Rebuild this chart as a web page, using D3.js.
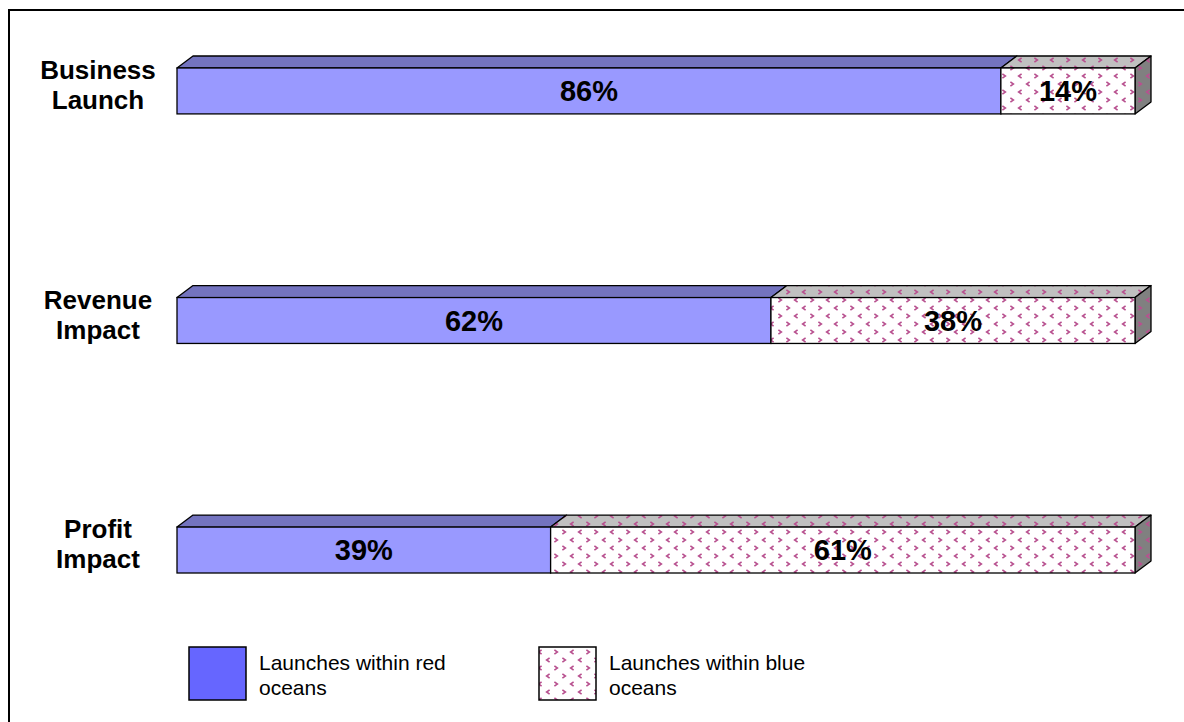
<!DOCTYPE html>
<html>
<head>
<meta charset="utf-8">
<script src="https://cdn.jsdelivr.net/npm/d3@7"></script>
<style>
  body { margin: 0; background: #fff; }
  svg { display: block; font-family: Arial, "Liberation Sans", sans-serif; }
</style>
</head>
<body>
<div id="chart"></div>
<script>
const categories = [['Business', 'Launch'], ['Revenue', 'Impact'], ['Profit', 'Impact']];
const redOceans = [86, 62, 39];
const blueOceans = [14, 38, 61];
const seriesNames = ['Launches within red oceans', 'Launches within blue oceans'];

const width = 1184;
const height = 722;
const depthX = 16;
const depthY = 12;

const svg = d3.select('#chart').append('svg')
    .attr('width', width)
    .attr('height', height);

// hatch of small pink chevrons for the blue-ocean series
const defs = svg.append('defs');
const mkPattern = (id, bg) => {
    const p = defs.append('pattern')
        .attr('id', id)
        .attr('patternUnits', 'userSpaceOnUse')
        .attr('width', 32)
        .attr('height', 16);
    p.append('rect').attr('width', 32).attr('height', 16).attr('fill', bg);
    const marks = [
        { x: 4, y: 4, dir: -1 }, { x: 20, y: 4, dir: 1 },
        { x: 12, y: 12, dir: 1 }, { x: 28, y: 12, dir: -1 }
    ];
    marks.forEach(m => {
        p.append('path')
            .attr('d', `M${m.x - m.dir * 1.6},${m.y - 2.2} L${m.x + m.dir * 1.4},${m.y} L${m.x - m.dir * 1.6},${m.y + 2.2}`)
            .attr('fill', 'none')
            .attr('stroke', '#b8508f')
            .attr('stroke-width', 1.6);
    });
};
mkPattern('blueFront', '#ffffff');
mkPattern('blueTop', '#c0c0c0');
mkPattern('blueSide', '#808080');

// frame
svg.append('rect')
    .attr('x', 9).attr('y', 10)
    .attr('width', width).attr('height', height)
    .attr('fill', 'none')
    .attr('stroke', '#000')
    .attr('stroke-width', 2);

const x = d3.scaleLinear().domain([0, 100]).range([177, 1135]);
const y = d3.scaleBand()
    .domain(d3.range(categories.length))
    .range([68, 573])
    .paddingInner(0.8)
    .paddingOuter(0);

const rows = categories.map((c, i) => ({
    i,
    label: c,
    segs: [
        { start: 0, end: redOceans[i], value: redOceans[i], kind: 'red' },
        { start: redOceans[i], end: redOceans[i] + blueOceans[i], value: blueOceans[i], kind: 'blue' }
    ]
}));

const fills = {
    red: { front: '#9999ff', top: '#7373bf', side: '#5c5c99' },
    blue: { front: 'url(#blueFront)', top: 'url(#blueTop)', side: 'url(#blueSide)' }
};

const row = svg.append('g').selectAll('g')
    .data(rows)
    .join('g');

const seg = row.selectAll('g.seg')
    .data(d => d.segs.map(s => ({ ...s, i: d.i })))
    .join('g')
    .attr('class', 'seg');

const bw = y.bandwidth();

seg.append('path')
    .attr('d', d => {
        const x0 = x(d.start), x1 = x(d.end), t = y(d.i);
        return `M${x0},${t} L${x0 + depthX},${t - depthY} L${x1 + depthX},${t - depthY} L${x1},${t} Z`;
    })
    .attr('fill', d => fills[d.kind].top)
    .attr('stroke', '#000')
    .attr('stroke-width', 1.3)
    .attr('stroke-linejoin', 'round');

seg.filter(d => d.end >= 100).append('path')
    .attr('d', d => {
        const x1 = x(d.end), t = y(d.i);
        return `M${x1},${t} L${x1 + depthX},${t - depthY} L${x1 + depthX},${t - depthY + bw} L${x1},${t + bw} Z`;
    })
    .attr('fill', d => fills[d.kind].side)
    .attr('stroke', '#000')
    .attr('stroke-width', 1.3)
    .attr('stroke-linejoin', 'round');

seg.append('rect')
    .attr('x', d => x(d.start))
    .attr('y', d => y(d.i))
    .attr('width', d => x(d.end) - x(d.start))
    .attr('height', bw)
    .attr('fill', d => fills[d.kind].front)
    .attr('stroke', '#000')
    .attr('stroke-width', 1.3);

seg.append('text')
    .attr('x', d => (x(d.start) + x(d.end)) / 2)
    .attr('y', d => y(d.i) + bw / 2 + 10)
    .attr('text-anchor', 'middle')
    .attr('font-size', 29)
    .attr('font-weight', 'bold')
    .attr('fill', '#000')
    .text(d => `${d.value}%`);

// category labels
row.append('text')
    .attr('text-anchor', 'middle')
    .attr('font-size', 26)
    .attr('font-weight', 'bold')
    .attr('fill', '#000')
    .selectAll('tspan')
    .data(d => d.label.map((t, k) => ({ t, k, i: d.i })))
    .join('tspan')
    .attr('x', 98)
    .attr('y', d => y(d.i) + 11 + d.k * 30)
    .text(d => d.t);

// legend
const legend = svg.append('g');
const legendItems = [
    { name: seriesNames[0], fill: '#6666ff', x: 189, lines: ['Launches within red', 'oceans'] },
    { name: seriesNames[1], fill: 'url(#blueFront)', x: 539, lines: ['Launches within blue', 'oceans'] }
];
const li = legend.selectAll('g').data(legendItems).join('g');
li.append('rect')
    .attr('x', d => d.x)
    .attr('y', 647)
    .attr('width', 57)
    .attr('height', 53)
    .attr('fill', d => d.fill)
    .attr('stroke', '#000')
    .attr('stroke-width', 1.5);
li.append('text')
    .attr('font-size', 21)
    .attr('fill', '#000')
    .selectAll('tspan')
    .data(d => d.lines.map((t, k) => ({ t, k, x: d.x })))
    .join('tspan')
    .attr('x', d => d.x + 70)
    .attr('y', d => 670 + d.k * 25)
    .text(d => d.t);
</script>
</body>
</html>
